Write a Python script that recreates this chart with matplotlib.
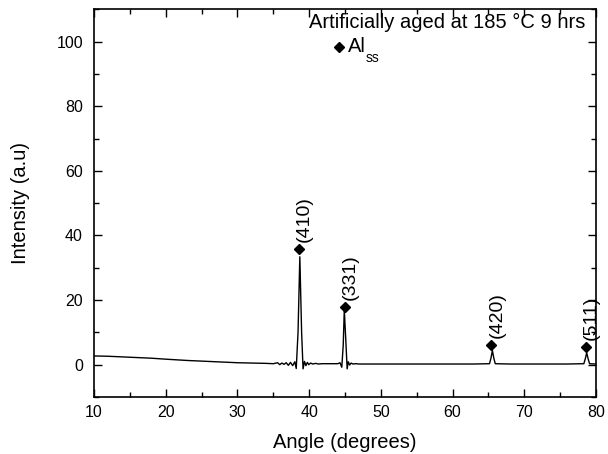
import numpy as np
import matplotlib
matplotlib.use("Agg")
import matplotlib.pyplot as plt
from matplotlib.ticker import MultipleLocator

plt.rcParams["font.family"] = ["Liberation Sans", "DejaVu Sans"]

# XRD pattern
angle = [10, 12, 15, 18, 20, 23, 25, 28, 30, 32, 34, 35, 35.6, 35.9, 36.2, 36.5,
         36.8, 37.1, 37.4, 37.7, 38.0, 38.2, 38.45, 38.7, 38.95, 39.15, 39.35,
         39.55, 39.75, 39.95, 40.2, 40.5, 40.9, 41.3, 41.8, 42.5, 43.3, 44.0,
         44.3, 44.55, 44.75, 44.9, 45.1, 45.3, 45.45, 45.65, 45.85, 46.1, 46.5,
         47, 48, 50, 55, 60, 63, 65.15, 65.35, 65.55, 65.75, 65.95, 68, 72, 76,
         78.3, 78.5, 78.7, 78.9, 79.1, 80]
intensity = [2.7, 2.6, 2.3, 2.0, 1.7, 1.3, 1.1, 0.8, 0.6, 0.5, 0.4, 0.3, 0.6, 0.0,
             0.5, 0.1, 0.6, -0.2, 0.7, -0.3, 0.9, -1.2, 10, 33.4, 10, -1.3, 1.0,
             -0.3, 0.7, 0.0, 0.5, 0.2, 0.4, 0.2, 0.3, 0.3, 0.3, 0.3,
             0.6, -0.8, 6, 17.0, 8, -1.3, 0.9, -0.1, 0.5, 0.2, 0.3,
             0.2, 0.2, 0.2, 0.2, 0.2, 0.2, 0.3, 2.0, 4.4, 2.0, 0.3, 0.2, 0.2, 0.2,
             0.3, 1.8, 3.7, 1.8, 0.3, 0.2]

peak_x = [38.6, 45.0, 65.4, 78.55]
peak_y = [35.8, 17.8, 6.2, 5.5]
peak_labels = ["(410)", "(331)", "(420)", "(511)"]

fig = plt.figure(figsize=(6.08, 4.54), dpi=100)
ax = fig.add_axes([0.1546, 0.1256, 0.8257, 0.8540])

ax.plot(angle, intensity, color="black", lw=1.0)
ax.plot(peak_x, peak_y, "D", color="black", ms=5, ls="none")

for px, py, lab in zip(peak_x, peak_y, peak_labels):
    ax.annotate(lab, (px, py), xytext=(4, 5), textcoords="offset points",
                rotation=90, ha="center", va="bottom", fontsize=14)

ax.text(0.978, 0.966, "Artificially aged at 185 \u00b0C 9 hrs", transform=ax.transAxes,
        ha="right", va="center", fontsize=14.5)
ax.plot([0.488], [0.903], "D", color="black", ms=5, transform=ax.transAxes)
ax.text(0.506, 0.903, "Al", transform=ax.transAxes,
        ha="left", va="center", fontsize=14.5)
ax.text(0.541, 0.875, "ss", transform=ax.transAxes,
        ha="left", va="center", fontsize=10)

ax.set_xlim(10, 80)
ax.set_ylim(-10, 110)
ax.xaxis.set_major_locator(MultipleLocator(10))
ax.xaxis.set_minor_locator(MultipleLocator(5))
ax.yaxis.set_major_locator(MultipleLocator(20))
ax.yaxis.set_minor_locator(MultipleLocator(10))
ax.tick_params(which="both", direction="in", top=True, right=True, labelsize=11.5)
ax.tick_params(which="major", length=6, width=1)
ax.tick_params(axis="y", pad=8)
ax.tick_params(axis="x", pad=6)
ax.tick_params(which="minor", length=3.5, width=1)
for s in ax.spines.values():
    s.set_linewidth(1.2)

ax.set_xlabel("Angle (degrees)", fontsize=14.5, labelpad=9)
ax.set_ylabel("Intensity (a.u)", fontsize=14.5, labelpad=19)

fig.savefig("out.png", dpi=100)
